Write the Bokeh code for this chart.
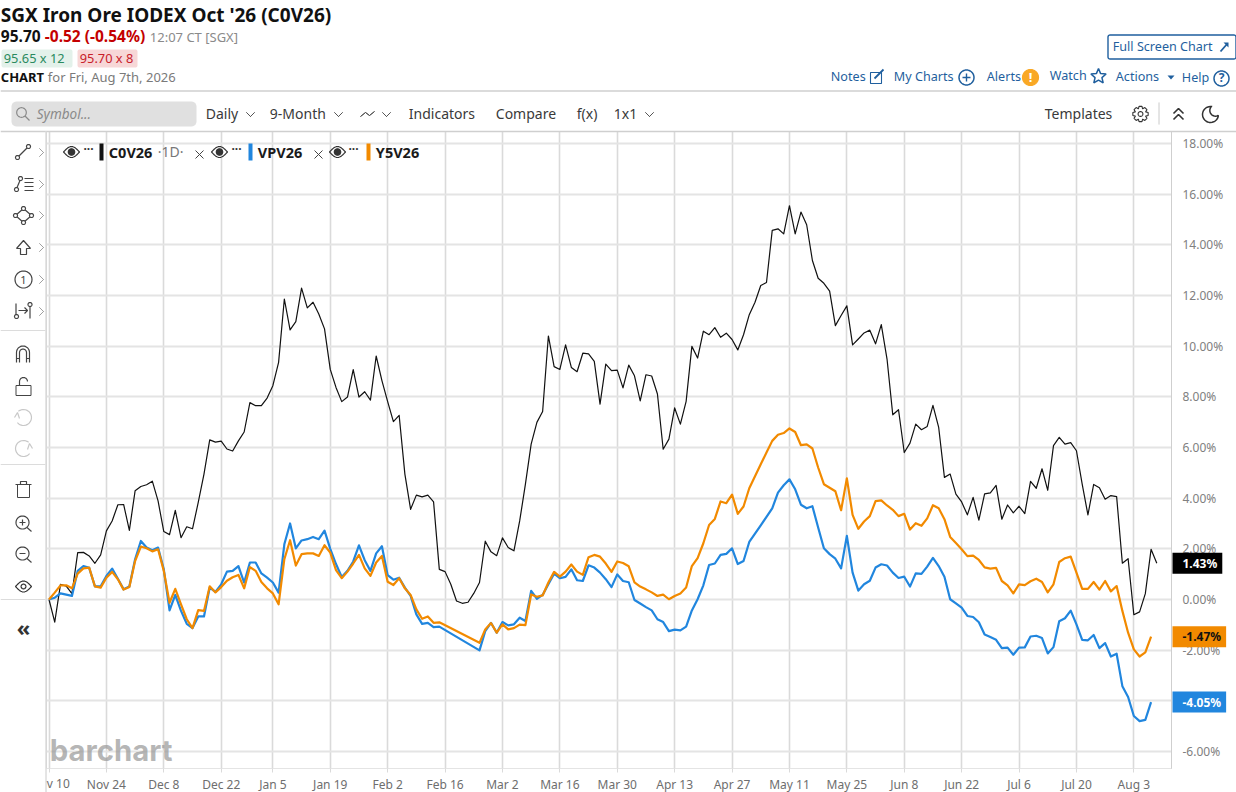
import math
from bokeh.embed import file_html
from bokeh.resources import INLINE
from bokeh.plotting import figure
from bokeh.models import Label, PolyAnnotation, FixedTicker, PrintfTickFormatter, Range1d

# ---------- data ----------
title_text = "SGX Iron Ore IODEX Oct '26 (C0V26)"
tick_index = [0, 10, 20, 30, 39, 49, 59, 69, 79, 89, 99, 109, 119, 129, 139, 149, 159, 169, 179, 189]
tick_labels = ["", "Nov 24", "Dec 8", "Dec 22", "Jan 5", "Jan 19", "Feb 2", "Feb 16", "Mar 2", "Mar 16",
               "Mar 30", "Apr 13", "Apr 27", "May 11", "May 25", "Jun 8", "Jun 22", "Jul 6", "Jul 20", "Aug 3"]
y_ticks = [-6, -4, -2, 0, 2, 4, 6, 8, 10, 12, 14, 16, 18]

c0v26 = [
    0, -0.89, 0.60, 0.53, 0.23, 1.85, 1.86, 1.72, 1.43, 1.76,
    2.71, 3.10, 3.74, 3.75, 2.73, 4.29, 4.46, 4.53, 4.67, 3.89,
    2.68, 2.56, 3.52, 2.44, 2.87, 2.79, 3.83, 4.95, 6.30, 6.21,
    6.25, 5.94, 5.86, 6.26, 6.61, 7.77, 7.65, 7.65, 7.95, 8.44,
    9.36, 11.86, 10.64, 10.97, 12.29, 11.51, 11.73, 11.27, 10.68, 9.08,
    8.37, 7.81, 7.99, 9.07, 7.99, 8.20, 7.87, 9.61, 8.64, 7.81,
    7.02, 7.27, 4.95, 3.56, 4.12, 4.05, 4.12, 3.85, 1.19, 1.10,
    0.60, -0.06, -0.15, -0.11, 0.24, 0.67, 2.30, 1.88, 1.73, 2.43,
    2.05, 1.92, 3.10, 4.55, 6.13, 6.99, 7.42, 10.40, 9.19, 9.08,
    10.05, 9.16, 8.99, 9.72, 9.69, 9.40, 7.71, 9.29, 9.03, 9.05,
    8.35, 9.25, 8.83, 7.84, 8.87, 8.82, 8.11, 5.93, 6.33, 7.56,
    6.92, 7.82, 9.99, 9.53, 10.59, 10.45, 10.73, 10.35, 10.51, 10.26,
    9.85, 10.45, 11.24, 11.73, 12.39, 12.51, 14.57, 14.63, 14.43, 15.54,
    14.43, 15.29, 14.79, 13.38, 12.68, 12.48, 12.17, 10.81, 11.21, 11.59,
    10.05, 10.28, 10.52, 10.63, 10.09, 10.85, 9.49, 7.29, 7.49, 5.80,
    6.17, 6.92, 6.70, 6.83, 7.66, 6.79, 4.82, 4.95, 4.16, 3.85,
    3.34, 4.03, 3.13, 4.17, 4.21, 4.50, 3.17, 3.73, 3.42, 3.68,
    3.39, 4.66, 4.39, 5.16, 4.31, 6.07, 6.40, 6.13, 6.19, 5.87,
    4.55, 3.34, 4.54, 4.41, 3.96, 4.10, 4.06, 1.43, 1.61, -0.60,
    -0.49, 0.23, 1.98, 1.43]

vpv26 = [
    0, 0.07, 0.24, 0.19, 0.14, 1.13, 1.32, 1.25, 0.52, 0.52,
    0.93, 1.22, 0.82, 0.40, 0.51, 1.59, 2.31, 2.05, 1.94, 2.05,
    1.19, -0.43, 0.18, -0.45, -0.96, -1.13, -0.67, -0.67, 0.47, 0.30,
    0.60, 1.10, 1.13, 1.32, 0.67, 1.46, 1.46, 1.03, 0.86, 0.67,
    0.27, 2.18, 3.00, 2.02, 2.33, 2.38, 2.47, 2.38, 2.72, 2.00,
    1.40, 0.89, 1.13, 1.50, 2.14, 1.55, 1.13, 1.82, 2.10, 0.96,
    0.78, 0.86, 0.47, 0.14, -0.59, -0.96, -0.92, -1.09, -1.07, None,
    None, None, None, None, None, -2.01, -1.25, -0.92, -1.31, -0.89,
    -1.02, -0.98, -0.72, -0.85, 0.34, 0.03, 0.18, 0.60, 1.02, 0.84,
    0.89, 1.19, 0.76, 0.73, 1.35, 1.26, 1.06, 0.80, 0.49, 0.99,
    0.73, 0.68, -0.02, -0.16, -0.30, -0.43, -0.78, -0.89, -1.25, -1.19,
    -1.22, -1.07, -0.43, 0.01, 0.56, 1.36, 1.42, 1.76, 1.80, 2.02,
    1.40, 1.52, 2.27, 2.60, 2.93, 3.26, 3.60, 4.22, 4.51, 4.74,
    4.35, 3.74, 3.60, 3.68, 2.84, 2.02, 1.79, 1.61, 1.23, 2.51,
    1.06, 0.35, 0.60, 0.74, 1.26, 1.39, 1.34, 1.06, 0.85, 0.90,
    0.51, 1.03, 1.01, 1.30, 1.64, 1.32, 0.90, 0.01, -0.15, -0.32,
    -0.65, -0.69, -0.90, -1.38, -1.48, -1.59, -1.92, -1.90, -2.18, -1.90,
    -1.89, -1.46, -1.43, -1.52, -2.13, -1.88, -0.86, -0.74, -0.44, -0.98,
    -1.59, -1.61, -1.40, -1.92, -1.72, -2.25, -2.14, -3.42, -3.85, -4.60,
    -4.80, -4.75, -4.05]

y5v26 = [
    0, 0.27, 0.56, 0.56, 0.44, 1.02, 1.23, 1.26, 0.52, 0.47,
    0.86, 1.09, 0.80, 0.39, 0.49, 1.52, 2.09, 2.02, 1.90, 1.98,
    1.13, -0.13, 0.42, -0.19, -0.78, -1.13, -0.42, -0.45, 0.52, 0.28,
    0.49, 0.74, 0.88, 0.97, 0.44, 1.28, 1.13, 0.69, 0.44, 0.24,
    -0.19, 1.59, 2.34, 1.34, 1.79, 1.82, 1.82, 1.72, 2.14, 1.85,
    1.16, 0.84, 1.10, 1.42, 1.76, 1.23, 0.93, 1.46, 1.72, 0.70,
    0.57, 0.84, 0.44, 0.18, -0.39, -0.76, -0.67, -0.92, -0.90, None,
    None, None, None, None, None, -1.71, -1.18, -0.93, -1.31, -0.98,
    -1.18, -1.13, -0.99, -1.01, 0.20, 0.11, 0.16, 0.67, 1.09, 0.90,
    1.10, 1.38, 1.10, 0.97, 1.67, 1.76, 1.69, 1.42, 1.09, 1.50,
    1.44, 1.31, 0.68, 0.51, 0.40, 0.28, 0.14, 0.19, 0.01, 0.14,
    0.24, 0.47, 1.32, 1.63, 2.22, 2.94, 3.18, 3.87, 3.80, 4.14,
    3.38, 3.67, 4.39, 4.86, 5.34, 5.80, 6.26, 6.50, 6.57, 6.75,
    6.61, 6.09, 6.12, 5.96, 5.21, 4.55, 4.41, 4.27, 3.52, 4.78,
    3.34, 2.79, 3.08, 3.29, 3.88, 3.91, 3.71, 3.54, 3.29, 3.38,
    2.76, 3.01, 2.91, 3.20, 3.72, 3.60, 3.17, 2.47, 2.23, 1.98,
    1.71, 1.73, 1.56, 1.27, 1.22, 1.25, 0.73, 0.56, 0.24, 0.60,
    0.57, 0.72, 0.82, 0.69, 0.28, 0.60, 1.48, 1.63, 1.69, 1.06,
    0.42, 0.42, 0.69, 0.39, 0.73, 0.32, 0.53, -0.45, -1.31, -1.97,
    -2.25, -2.09, -1.47]

BLACK = "#111111"
BLUE = "#2186de"
ORANGE = "#f28a00"
FONT = "Noto Sans"
LINK = "#1f5f9e"
INK = "#3a3a3a"
ABS = {"position": "absolute", "left": "0px", "top": "0px"}

# ---------- chart ----------
p = figure(width=1236, height=792, frame_width=1125, frame_height=637,
           min_border_left=46, min_border_right=65, min_border_top=131, min_border_bottom=24,
           x_range=Range1d(-0.436, 195.56), y_range=Range1d(-6.67, 18.47),
           output_backend="svg", toolbar_location=None, background_fill_color="white",
           border_fill_color="white", outline_line_color="#cfcfcf", x_axis_location="below",
           y_axis_location="right", styles=ABS, margin=0)

p.xgrid.ticker = FixedTicker(ticks=tick_index)
p.ygrid.ticker = FixedTicker(ticks=y_ticks)
p.xgrid.grid_line_color = "#dadada"
p.xgrid.grid_line_width = 1.6
p.ygrid.grid_line_color = "#e4e4e4"
p.ygrid.grid_line_width = 1.8

xa = p.xaxis[0]
xa.ticker = FixedTicker(ticks=tick_index)
xa.major_label_overrides = dict(zip(tick_index, tick_labels))
xa.axis_line_color = "#e4e4e4"
xa.major_tick_line_color = "#dadada"
xa.major_tick_out = 4
xa.major_tick_in = 0
xa.minor_tick_line_color = None
xa.major_label_text_font = FONT
xa.major_label_text_font_size = "12px"
xa.major_label_text_color = "#6e6e6e"
xa.major_label_standoff = 3

ya = p.yaxis[0]
ya.ticker = FixedTicker(ticks=y_ticks)
ya.formatter = PrintfTickFormatter(format="%.2f%%")
ya.axis_line_color = "#cfcfcf"
ya.major_tick_line_color = None
ya.minor_tick_line_color = None
ya.major_label_text_font = FONT
ya.major_label_text_font_size = "12px"
ya.major_label_text_color = "#808080"
ya.major_label_standoff = 5


def series(vals):
    pts = [(i, v) for i, v in enumerate(vals) if v is not None]
    return [a for a, _ in pts], [b for _, b in pts]


for vals, col, w in [(c0v26, BLACK, 1.2), (vpv26, BLUE, 2.2), (y5v26, ORANGE, 2.2)]:
    xs, ys = series(vals)
    p.line(xs, ys, line_color=col, line_width=w, line_join="round")

# ---------- transparent page overlay for the interface around the chart ----------
px_per_unit = 637 / (18.47 + 6.67)
o = figure(width=1236, height=792, x_range=Range1d(0, 1236), y_range=Range1d(792, 0),
           x_axis_type=None, y_axis_type=None, min_border=0, output_backend="svg",
           toolbar_location=None, background_fill_color=None, border_fill_color=None,
           outline_line_color=None, styles=ABS, margin=0)
o.grid.visible = False
o.extra_y_ranges = {"pct": Range1d(-6.67 - 24 / px_per_unit, 18.47 + 131 / px_per_unit)}


def T(x, y, s, size=13, color=INK, style="normal", font=FONT, base="middle", align="left", alpha=1.0):
    dx = -0.7 if align == "left" else 0
    o.add_layout(Label(x=x + dx, y=y - 1, x_units="canvas", y_units="canvas", text=s, text_font=font,
                       text_font_size=f"{size}px", text_color=color, text_font_style=style,
                       text_baseline=base, text_align=align, text_alpha=alpha))


def poly(pts, line=None, width=1.2, fill=None):
    o.add_layout(PolyAnnotation(xs=[a for a, _ in pts], ys=[b for _, b in pts],
                                xs_units="canvas", ys_units="canvas",
                                fill_color=fill, fill_alpha=1.0 if fill else 0,
                                line_color=line, line_width=width, line_alpha=1.0 if line else 0))


def L(pts, color=INK, width=1.2):
    poly(pts + pts[-2:0:-1], line=color, width=width)


def box(x0, y0, x1, y1, fill=None, line=None, width=1):
    poly([(x0, y0), (x1, y0), (x1, y1), (x0, y1)], line=line, width=width, fill=fill)


def arc(cx, cy, r, a0=0, a1=360, n=36):
    return [(cx + r * math.cos(math.radians(a0 + (a1 - a0) * k / n)),
             cy + r * math.sin(math.radians(a0 + (a1 - a0) * k / n))) for k in range(n + 1)]


def rbox(x0, y0, x1, y1, r=3, fill=None, line=None, width=1):
    pts = (arc(x1 - r, y0 + r, r, 270, 360, 5) + arc(x1 - r, y1 - r, r, 0, 90, 5) +
           arc(x0 + r, y1 - r, r, 90, 180, 5) + arc(x0 + r, y0 + r, r, 180, 270, 5))
    poly(pts, line=line, width=width, fill=fill)


def circle(cx, cy, r, line=INK, width=1.2, fill=None):
    poly(arc(cx, cy, r)[:-1], line=line, width=width, fill=fill)


def chev_down(cx, cy, color="#555555"):
    L([(cx - 4, cy - 2), (cx, cy + 2), (cx + 4, cy - 2)], color, 1)


def chev_right(cx, cy):
    L([(cx - 2, cy - 4), (cx + 2, cy), (cx - 2, cy + 4)], "#a0a0a0", 1)


def eye(cx, cy, fill=True):
    pts = [(cx - 8, cy)] + [(cx - 8 + 16 * k / 12, cy - 5.5 * math.sin(math.pi * k / 12)) for k in range(1, 13)] + \
          [(cx + 8 - 16 * k / 12, cy + 5.5 * math.sin(math.pi * k / 12)) for k in range(1, 12)]
    poly(pts, line="#333333", width=1.2)
    circle(cx, cy, 3.2 if fill else 2.4, line="#333333", fill="#333333" if fill else None)


# ---------- panels and separators ----------
for y in [90.5, 131]:
    box(0, y, 1236, y, line="#cfcfcf", width=1.4)
box(45.5, 131, 45.5, 792, line="#dcdcdc", width=1)
for y in [330, 464, 599]:
    box(0, y, 45, y, line="#dcdcdc", width=1.2)

# ---------- header ----------
T(1, 15, title_text, 19, "#111111", "bold")
T(1, 36.5, "95.70", 15.5, "#111111", "bold")
T(45, 36.5, "-0.52 (-0.54%)", 15.5, "#c40000", "bold")
T(150, 37, "12:07 CT [SGX]", 13, "#8a8a8a")
rbox(1, 49, 72, 67, 2, fill="#e3f1ea")
T(4, 58, "95.65 x 12", 12.8, "#2a8a5e")
rbox(77, 49, 137, 67, 2, fill="#f7d7d7")
T(80, 58, "95.70 x 8", 12.8, "#c8202a")
T(1, 77, "CHART", 13, "#111111", "bold")
T(48, 77, "for Fri, Aug 7th, 2026", 13, "#7a7a7a")

rbox(1107.5, 34.5, 1235.5, 58.5, 2, line="#1f5f9e", width=1.4)
T(1113, 46.5, "Full Screen Chart", 12.6, LINK)
L([(1220, 51), (1227, 43)], LINK, 1.8)
poly([(1223, 42), (1228, 42), (1228, 47)], fill=LINK)

T(831, 76.5, "Notes", 12.6, LINK)
box(870, 72, 881, 83, line=LINK, width=1.1)
L([(874, 78), (883, 69)], LINK, 1.8)
T(894, 76.5, "My Charts", 12.6, LINK)
circle(966, 77, 7.5, line=LINK, width=1.5)
L([(962, 77), (970, 77)], LINK, 1.4)
L([(966, 73), (966, 81)], LINK, 1.4)
T(987, 77, "Alerts", 12.6, LINK)
circle(1030, 77, 8, line="#f9a825", fill="#f9a825")
T(1030, 77, "!", 13, "white", "bold", align="center")
T(1050, 76, "Watch", 12.6, LINK)
star = [(1098 + (8 if k % 2 == 0 else 3.6) * math.sin(math.pi * k / 5),
         76 - (8 if k % 2 == 0 else 3.6) * math.cos(math.pi * k / 5)) for k in range(10)]
poly(star, line=LINK, width=1.5)
T(1116, 77, "Actions", 12.6, LINK)
poly([(1167, 75), (1174, 75), (1170.5, 79)], fill=LINK)
T(1182, 78, "Help", 12.6, LINK)
circle(1221, 78, 7.5, line=LINK, width=1.5)
T(1221, 78, "?", 12, LINK, "bold", align="center")

# ---------- toolbar ----------
rbox(11, 101, 196, 126, 5, fill="#e0e0e0")
circle(21, 112, 4.8, line="#8a8a8a", width=1.2)
L([(24.5, 115.5), (29, 120)], "#8a8a8a", 1.2)
T(37, 114, "Symbol...", 13.5, "#8a8a8a", "italic")
T(206, 114, "Daily", 14, INK)
chev_down(250, 114)
T(270, 114, "9-Month", 14, INK)
chev_down(338, 114)
L([(360, 116), (365, 112), (369, 115), (374, 111)], "#555555", 1)
chev_down(386, 114)
T(409, 114, "Indicators", 14, INK)
T(496, 114, "Compare", 14, INK)
T(577, 114, "f(x)", 14, INK)
T(614, 114, "1x1", 14, INK)
chev_down(649, 114)
T(1045, 114, "Templates", 14, INK)
gear = []
for k in range(8):
    a = 45 * k
    gear += [(1140 + r * math.cos(math.radians(a + d)), 113.5 + r * math.sin(math.radians(a + d)))
             for r, d in [(5.6, -22), (7.8, -11), (7.8, 11), (5.6, 22)]]
poly(gear, line="#333333", width=1.1)
circle(1140, 113.5, 2.4, line="#333333", width=1.1)
box(1158.5, 102, 1158.5, 124, line="#dcdcdc", width=1)
L([(1173, 113), (1178, 108), (1183, 113)], "#333333", 1.6)
L([(1173, 119), (1178, 114), (1183, 119)], "#333333", 1.6)
moon = arc(1210, 114, 8, 280, 10, 24) + arc(1215, 110, 5.7, 62, 227, 12)
poly(moon, line="#333333", width=1.5)

# ---------- left drawing tools ----------
TOOL = "#444444"
circle(17, 157, 2, line=TOOL)
circle(28, 146, 2, line=TOOL)
L([(18.5, 155.5), (26.5, 147.5)], TOOL)
circle(16, 189, 2, line=TOOL)
circle(20, 178, 2, line=TOOL)
L([(16.5, 187), (19.5, 180)], TOOL)
for y in [178, 182, 186, 190]:
    L([(24, y), (33, y)], TOOL)
poly([(15, 215), (23, 208), (31, 215), (23, 222)], line=TOOL)
for c in [(15, 215), (23, 208), (31, 215), (23, 222)]:
    circle(c[0], c[1], 2, line=TOOL, fill="white")
poly([(23, 240), (30, 248), (26, 248), (26, 254), (20, 254), (20, 248), (16, 248)], line=TOOL)
circle(23, 279, 8.5, line=TOOL)
T(23, 280, "1", 11, TOOL, align="center")
circle(16, 316, 2, line=TOOL)
circle(29.5, 304, 2, line=TOOL)
L([(15.5, 314), (15.5, 303)], TOOL)
L([(29.5, 306), (29.5, 318)], TOOL)
L([(18, 310), (27, 310)], TOOL)
L([(24, 307), (27, 310), (24, 313)], TOOL)
for y in [152, 184, 215, 247, 279, 311]:
    chev_right(41, y)
mag = arc(22.5, 352, 6.5, 180, 360, 14)
L([(16, 362)] + mag + [(29, 362)], TOOL)
mag2 = arc(22.5, 352, 3.5, 180, 360, 10)
L([(19, 362)] + mag2 + [(26, 362)], TOOL)
L([(16, 358), (19, 358)], TOOL)
L([(26, 358), (29, 358)], TOOL)
box(15.5, 385, 30.5, 395, line=TOOL)
L([(19, 385)] + arc(23, 381, 4, 180, 360, 10), TOOL)
GHOST = "#c8c8c8"
L(arc(23, 417, 8, -130, 140, 20), GHOST)
L([(14, 417), (17, 412), (19, 418)], GHOST)
L(arc(23, 448, 8, 40, 310, 20), GHOST)
L([(32, 448), (29, 443), (27, 449)], GHOST)
box(17, 484, 29, 497, line=TOOL)
L([(15, 484), (31, 484)], TOOL)
L([(20, 484), (20, 481), (26, 481), (26, 484)], TOOL)
for y, plus in [(522, True), (553, False)]:
    circle(22, y, 6.5, line=TOOL)
    L([(26.5, y + 5), (31, y + 9)], TOOL)
    L([(19, y), (25, y)], TOOL)
    if plus:
        L([(22, y - 3), (22, y + 3)], TOOL)
eye(23, 586, False)
T(23, 627, "«", 22, "#333333", "bold", align="center")

# ---------- legend row ----------
for ex, dx, bx, col, name, nx, cross in [(71, 88, 99, BLACK, "C0V26", 109, 199),
                                         (219, 236, 248, BLUE, "VPV26", 258, 318),
                                         (337, 353, 366, ORANGE, "Y5V26", 376, None)]:
    eye(ex, 151.5)
    T(dx, 149, "···", 12, "#333333", "bold", align="center")
    box(bx, 143, bx + 4, 160, fill=col)
    T(nx, 152, name, 14.5, "#1a1a1a", "bold")
    if cross:
        L([(cross - 4, 150), (cross + 4, 158)], "#444444", 1)
        L([(cross + 4, 150), (cross - 4, 158)], "#444444", 1)
T(158, 152, "·1D·", 14, "#777777")

# ---------- x axis label cut by the panel edge ----------
T(47, 784, "v 10", 12, "#6e6e6e")

# ---------- logo ----------
T(50, 751, "barchart", 29.3, "#9a9a9a", "bold", font="Inter", alpha=0.72)

# ---------- end-of-line value flags ----------
for val, bg, fg, pad in [(c0v26[-1], "#000000", "white", (10, 5, 2, 2)),
                         (y5v26[-1], ORANGE, "#111111", (10, 5, 2, 2)),
                         (vpv26[-1], BLUE, "white", (10, 5, 2, 2))]:
    o.add_layout(Label(x=1172, y=val, x_units="canvas", y_units="data", y_range_name="pct",
                       text=f"{val:.2f}%", text_font=FONT, text_font_size="12px",
                       text_font_style="bold", text_color=fg, text_baseline="middle",
                       background_fill_color=bg, padding=pad))

open("out.html", "w").write(file_html([p, o], INLINE))
